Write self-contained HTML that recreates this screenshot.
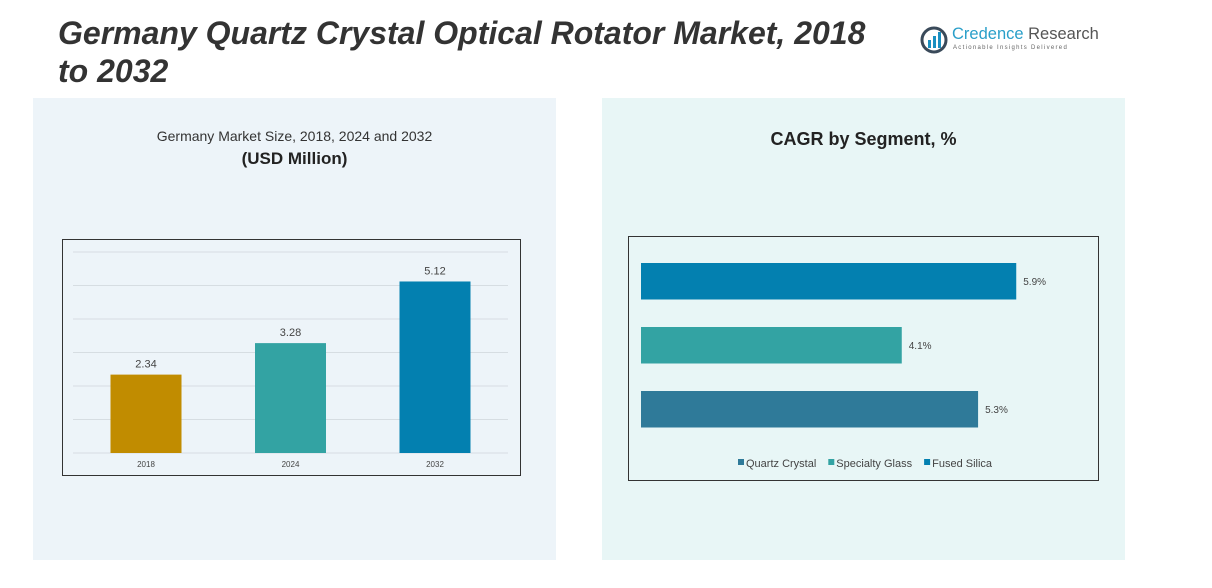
<!DOCTYPE html>
<html><head><meta charset="utf-8"><style>
body{margin:0;width:1212px;height:588px;background:#fff;font-family:"Liberation Sans",sans-serif;position:relative;overflow:hidden}
.abs{position:absolute}
</style></head><body>
<div class="abs" style="left:58px;top:14px;font-size:32px;font-weight:bold;font-style:italic;color:#333;line-height:38px;width:835px">Germany Quartz Crystal Optical Rotator Market, 2018 to 2032</div>
<div class="abs" style="left:920px;top:24px;width:190px;height:32px">
<svg width="30" height="30" style="position:absolute;left:0;top:2px"><circle cx="14" cy="14" r="12" fill="none" stroke="#3a4a5a" stroke-width="3"/><rect x="8" y="14" width="3" height="8" fill="#1a8fc0"/><rect x="13" y="10" width="3" height="12" fill="#1a8fc0"/><rect x="18" y="6" width="3" height="16" fill="#1a8fc0"/></svg>
<div class="abs" style="left:32px;top:1px;font-size:16.5px;color:#2a9fc9;white-space:nowrap">Credence <span style="color:#555">Research</span></div>
<div class="abs" style="left:33px;top:21px;font-size:6px;letter-spacing:1.3px;color:#666;white-space:nowrap">Actionable Insights Delivered</div>
</div>
<div class="abs" style="left:33px;top:98px;width:523px;height:462px;background:#edf4f9"></div>
<div class="abs" style="left:602px;top:98px;width:523px;height:462px;background:#e8f6f6"></div>
<div class="abs" style="left:33px;top:128px;width:523px;text-align:center;font-size:14px;color:#333">Germany Market Size, 2018, 2024 and 2032</div>
<div class="abs" style="left:33px;top:149px;width:523px;text-align:center;font-size:17px;font-weight:bold;color:#222">(USD Million)</div>
<div class="abs" style="left:602px;top:129px;width:523px;text-align:center;font-size:18px;font-weight:bold;color:#222">CAGR by Segment, %</div>
<svg class="abs" style="left:0;top:0" width="1212" height="588" id="charts">
<rect x="62.5" y="239.5" width="458" height="236" fill="none" stroke="#333"/>
<rect x="628.5" y="236.5" width="470" height="244" fill="none" stroke="#333"/>
<g id="g1"></g><g id="g2"></g>
</svg>
<script>
const years=["2018","2024","2032"];
const sizes=[2.34,3.28,5.12];
const yearColors=["#c18c00","#33a3a3","#0380b0"];
const gridTicks=[0,1,2,3,4,5,6];
const segments=["Fused Silica","Specialty Glass","Quartz Crystal"];
const cagr=[5.9,4.1,5.3];
const segColors=["#0380b0","#33a3a3","#2f7a99"];
const legendNames=["Quartz Crystal","Specialty Glass","Fused Silica"];
const legendColors=["#2f7a99","#33a3a3","#0380b0"];
const NS="http://www.w3.org/2000/svg";
function mk(t,a,p,txt){const e=document.createElementNS(NS,t);for(const k in a)e.setAttribute(k,a[k]);if(txt!==undefined)e.textContent=txt;p.appendChild(e);return e;}
const g1=document.getElementById('g1'),g2=document.getElementById('g2');
const y=v=>453-v*33.5, x=i=>146+i*144.5;
gridTicks.forEach(t=>{const l=mk('line',{x1:73,x2:508,y1:y(t),y2:y(t),stroke:'#d6dde2'},g1);

});
years.forEach((yr,i)=>{
const r=mk('rect',{x:x(i)-35.5,y:y(sizes[i]),width:71,height:y(0)-y(sizes[i]),fill:yearColors[i]},g1);


const v=mk('text',{x:x(i),y:y(sizes[i])-7,'text-anchor':'middle','font-size':11,fill:'#444'},g1,sizes[i].toFixed(2));


const t=mk('text',{x:x(i),y:467,'text-anchor':'middle','font-size':8,fill:'#444'},g1,yr);


});
const hx=v=>641+v*63.6, hy=i=>263+i*64;
segments.forEach((s,i)=>{
const r=mk('rect',{x:hx(0),y:hy(i),width:hx(cagr[i])-hx(0),height:36.5,fill:segColors[i]},g2);


const t=mk('text',{x:hx(cagr[i])+7,y:hy(i)+22,'font-size':10,fill:'#444'},g2,cagr[i].toFixed(1)+'%');


});
let lx=738;
legendNames.forEach((n,i)=>{
const g=mk('g',{},g2);


mk('rect',{x:lx,y:459,width:6,height:6,fill:legendColors[i]},g);
const t=mk('text',{x:lx+8,y:467,'font-size':11,fill:'#444'},g,n);
lx+=8+t.getComputedTextLength()+12;
});
</script>
</body></html>
